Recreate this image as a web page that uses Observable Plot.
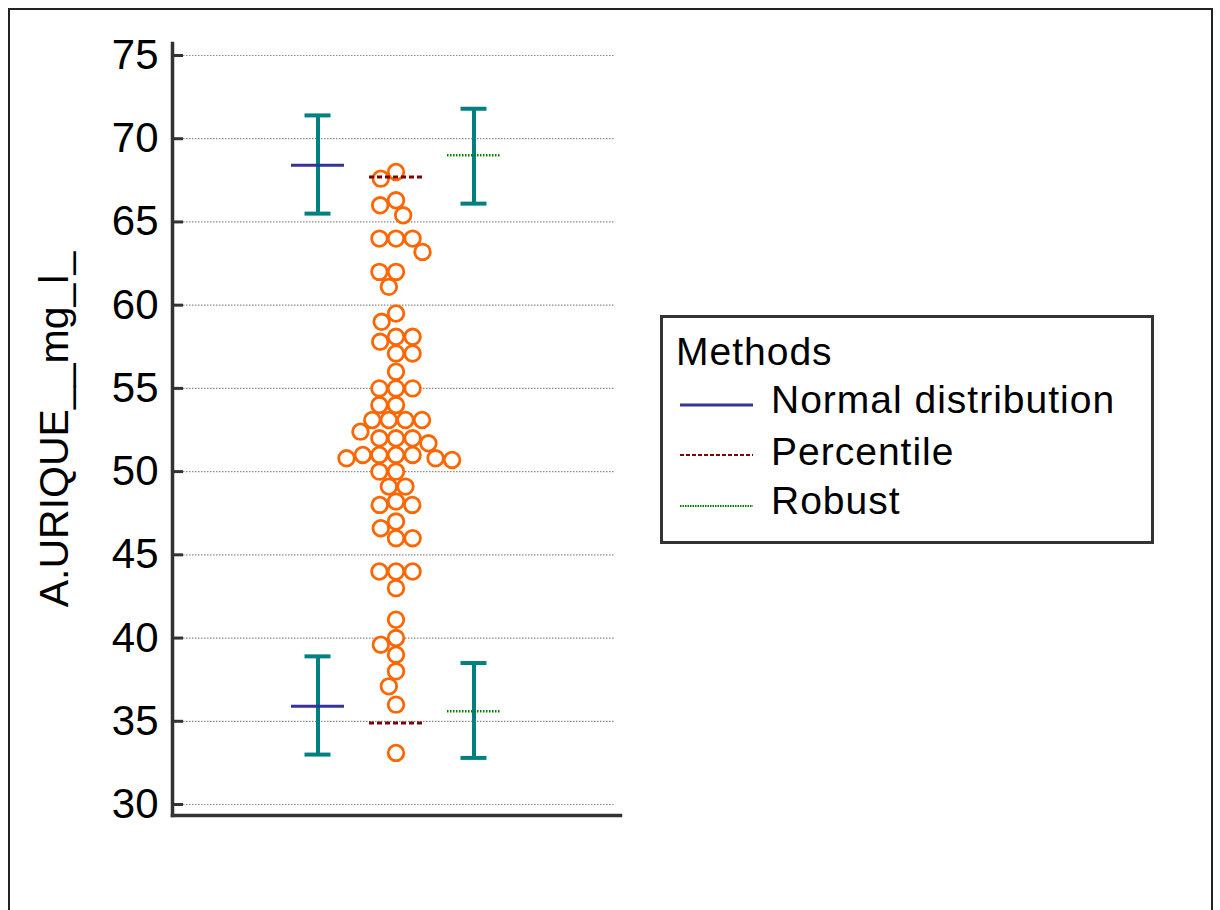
<!DOCTYPE html>
<html>
<head>
<meta charset="utf-8">
<script src="https://cdn.jsdelivr.net/npm/d3@7"></script>
<script src="https://cdn.jsdelivr.net/npm/@observablehq/plot@0.6"></script>
<style>
  html, body { margin: 0; padding: 0; background: #fff; width: 1220px; height: 910px; overflow: hidden; }
  body { position: relative; font-family: "Liberation Sans", Arial, sans-serif; }
  #frame { position: absolute; left: 8px; top: 8px; width: 1205px; height: 940px; border: 2px solid #222; box-sizing: border-box; }
  #chart { position: absolute; left: 0; top: 0; }
  #legend { position: absolute; left: 660px; top: 315px; width: 494px; height: 229px; border: 3px solid #333; box-sizing: border-box; background: #fff; }
  #legend .t { position: absolute; font-size: 39px; line-height: 39px; letter-spacing: 1px; color: #000; white-space: nowrap; }
  #legend svg { position: absolute; }
</style>
</head>
<body>
<div id="frame"></div>
<div id="chart"></div>
<div id="legend"></div>
<script>
// ---- data ----
const methods = ["Normal distribution", "Percentile", "Robust"];
const methodColors = ["#333399", "#800000", "#008000"];
const methodDash = [null, "5,3", "1.5,1.5"];
const lowerLimit = [35.9, 34.9, 35.6];
const upperLimit = [68.4, 67.7, 69.0];
const lowerCILow = [33.0, null, 32.8];
const lowerCIHigh = [38.9, null, 38.5];
const upperCILow = [65.5, null, 66.1];
const upperCIHigh = [71.4, null, 71.8];
const uricValues = [
  68.0, 67.6, 66.3, 66.0, 65.4, 64.0, 64.0, 64.0, 63.2, 62.0, 62.0, 61.1,
  59.5, 59.0, 58.1, 58.1, 57.8, 57.1, 57.1, 56.0, 55.0, 55.0, 55.0, 54.0, 54.0,
  53.1, 53.1, 53.1, 53.1, 52.4, 52.0, 52.0, 52.0, 51.7, 51.0, 51.0, 51.0, 51.0,
  50.8, 50.8, 50.7, 50.0, 50.0, 49.1, 49.1, 48.2, 48.0, 48.0, 47.0, 46.6, 46.0, 46.0,
  44.0, 44.0, 44.0, 43.0, 41.1, 40.0, 39.6, 39.0, 38.0, 37.1, 36.0, 33.1
];
const yTicks = [30, 35, 40, 45, 50, 55, 60, 65, 70, 75];
const yLabel = "A.URIQUE__mg_l_";
const legendTitle = "Methods";

// ---- table built from arrays ----
const rows = methods.map((m, i) => ({
  method: m, lower: lowerLimit[i], upper: upperLimit[i],
  lcl: lowerCILow[i], lch: lowerCIHigh[i], ucl: upperCILow[i], uch: upperCIHigh[i]
}));
const ciRows = rows.filter(d => d.lcl != null);
const capRows = ciRows.flatMap(d => [d.lcl, d.lch, d.ucl, d.uch].map(v => ({method: d.method, v})));

const W = 1220, H = 910;
const mL = 172, mR = 600, mT = 43, mB = 95;
const frameW = W - mL - mR;
const bandOffset = 27; // half bandwidth of the x band scale

const limitMarks = methods.map((m, i) => Plot.tickY(rows.filter(d => d.method === m).flatMap(d => [
    {method: d.method, v: d.lower}, {method: d.method, v: d.upper}]), {
  x: "method", y: "v",
  stroke: methodColors[i], strokeWidth: i === 2 ? 2.5 : 3,
  strokeDasharray: methodDash[i]
}));

const chart = Plot.plot({
  width: W, height: H,
  marginLeft: mL, marginRight: mR, marginTop: mT, marginBottom: mB,
  style: {fontFamily: "'Liberation Sans', Arial, sans-serif", background: "transparent", color: "#000"},
  x: {type: "band", domain: methods, paddingInner: 0.316, paddingOuter: 1.4935, axis: null},
  y: {domain: [29.34, 75.72], ticks: yTicks},
  marks: [
    Plot.ruleY(yTicks, {stroke: "#8a8a8a", strokeWidth: 1.2, strokeDasharray: "1.5,1.5", insetLeft: 8, insetRight: 5}),
    Plot.ruleY(yTicks, {stroke: "#333", strokeWidth: 3, insetRight: frameW - 11}),
    Plot.frame({anchor: "left", stroke: "#333", strokeWidth: 3.5}),
    Plot.frame({anchor: "bottom", stroke: "#333", strokeWidth: 3.5}),
    Plot.axisY(yTicks, {tickSize: 0, tickPadding: 14, fontSize: 42, label: null, fill: "#000"}),
    Plot.text([yLabel], {frameAnchor: "left", text: d => d, rotate: -90, dx: -118, fontSize: 41, textAnchor: "middle", lineAnchor: "middle", fill: "#000"}),
    Plot.ruleX(ciRows, {x: "method", y1: "lcl", y2: "lch", stroke: "#008080", strokeWidth: 4}),
    Plot.ruleX(ciRows, {x: "method", y1: "ucl", y2: "uch", stroke: "#008080", strokeWidth: 4}),
    Plot.tickY(capRows, {x: "method", y: "v", stroke: "#008080", strokeWidth: 4, insetLeft: 13.5, insetRight: 13.5}),
    Plot.dot(uricValues, Plot.dodgeX("middle", {y: d => d, r: 7.8, padding: 0.4, dx: -bandOffset, stroke: "#ff6600", fill: "#fff", strokeWidth: 2.8})),
    ...limitMarks
  ]
});
document.getElementById("chart").appendChild(chart);

// ---- legend ----
const legend = document.getElementById("legend");
const ox = 660, oy = 315;
function addText(txt, left, baseline) {
  const d = document.createElement("div");
  d.className = "t";
  d.textContent = txt;
  d.style.left = (left - ox - 3) + "px";
  d.style.top = (baseline - oy - 3 - 33) + "px";
  legend.appendChild(d);
}
addText(legendTitle, 676, 365);
const baselines = [413, 465, 514];
const lineYs = [405, 455, 506];
methods.forEach((m, i) => {
  const svg = document.createElementNS("http://www.w3.org/2000/svg", "svg");
  svg.setAttribute("width", 80); svg.setAttribute("height", 10);
  svg.style.left = (678 - ox - 3) + "px";
  svg.style.top = (lineYs[i] - 5 - oy - 3) + "px";
  const ln = document.createElementNS("http://www.w3.org/2000/svg", "line");
  ln.setAttribute("x1", 2); ln.setAttribute("x2", 75);
  ln.setAttribute("y1", 5); ln.setAttribute("y2", 5);
  ln.setAttribute("stroke", methodColors[i]);
  ln.setAttribute("stroke-width", i === 0 ? 3 : 2);
  if (methodDash[i]) ln.setAttribute("stroke-dasharray", i === 1 ? "4,2" : "1.5,1");
  svg.appendChild(ln);
  legend.appendChild(svg);
  addText(m, 771, baselines[i]);
});
</script>
</body>
</html>
